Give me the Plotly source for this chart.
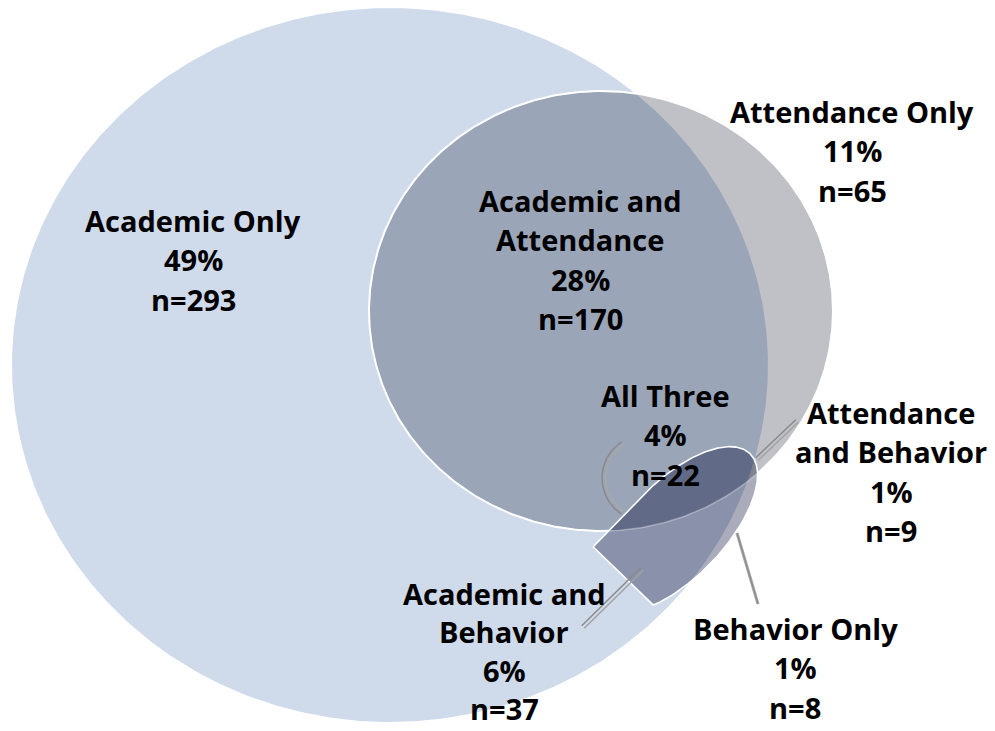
import numpy as np
import plotly.graph_objects as go

W, H = 995, 731

# ---------------- data ----------------
region_labels = ["Academic Only", "Academic and\nAttendance", "Attendance Only", "All Three",
                 "Attendance\nand Behavior", "Academic and\nBehavior", "Behavior Only"]
percents = [49, 28, 11, 4, 1, 6, 1]
counts = [293, 170, 65, 22, 9, 37, 8]

# ---------------- layout constants (pixel space) ----------------
label_pos = [(193, 220), (580, 200), (852, 111), (665, 395), (891, 412), (504, 593), (795, 628)]
label_gap = [39.5, 39.5, 39.5, 39.5, 39.5, 38.5, 39.5]
FONT = dict(family="Open Sans", size=29, color="#000000", weight="bold")

A_ELL = (390, 365, 378, 357)   # academic ellipse cx, cy, rx, ry
T_ELL = (601, 311, 232, 220)   # attendance ellipse
S_ORIGIN = np.array([623.3, 576.0])
S_U = np.array([0.695, -0.719]); S_U /= np.linalg.norm(S_U)
S_N = np.array([-S_U[1], S_U[0]])
if S_N[0] + S_N[1] < 0:
    S_N = -S_N

C_A = "#CFDAEB"
C_T = "#BFC1C6"
C_AT = "#9AA5B8"
C_S = "#AAACBB"
C_SA = "#8A92AB"
C_ST = "#7F828F"
C_SAT = "#616B88"


def ell_test(e):
    cx, cy, rx, ry = e
    return lambda x, y: ((x - cx) / rx) ** 2 + ((y - cy) / ry) ** 2 <= 1


def s_test(x, y):
    dx = x - S_ORIGIN[0]
    dy = y - S_ORIGIN[1]
    u = dx * S_U[0] + dy * S_U[1]
    n = dx * S_N[0] + dy * S_N[1]
    in_ell = ((u - 70) / 106) ** 2 + ((n - 6) / 48) ** 2 <= 1
    in_rect = (u <= 70) & (n >= -42) & (n <= 6)
    return (u >= 0) & (in_ell | in_rect)


def s_point(u, n):
    p = S_ORIGIN + u * S_U + n * S_N
    return p[0], p[1]


def star_region(p, tests, npts=900, rmax=900.0):
    th = np.linspace(0, 2 * np.pi, npts, endpoint=False)
    dx, dy = np.cos(th), np.sin(th)
    lo = np.zeros(npts)
    hi = np.full(npts, rmax)
    for _ in range(45):
        mid = (lo + hi) / 2
        x = p[0] + mid * dx
        y = p[1] + mid * dy
        ok = np.ones(npts, dtype=bool)
        for t in tests:
            ok &= t(x, y)
        lo = np.where(ok, mid, lo)
        hi = np.where(ok, hi, mid)
    xs = p[0] + lo * dx
    ys = p[1] + lo * dy
    return np.append(xs, xs[0]), np.append(ys, ys[0])


def ellipse_pts(e, npts=500):
    cx, cy, rx, ry = e
    t = np.linspace(0, 2 * np.pi, npts)
    return cx + rx * np.cos(t), cy + ry * np.sin(t)


tA, tT = ell_test(A_ELL), ell_test(T_ELL)
fig = go.Figure()


def poly(x, y, color):
    fig.add_trace(go.Scatter(x=x, y=y, mode="lines", fill="toself", fillcolor=color,
                             line=dict(width=0, color=color), hoverinfo="skip"))


def outline(x, y, color, width):
    fig.add_trace(go.Scatter(x=x, y=y, mode="lines", line=dict(color=color, width=width),
                             hoverinfo="skip"))


ax, ay = ellipse_pts(A_ELL)
poly(ax, ay, C_A)
tx, ty = ellipse_pts(T_ELL)
poly(tx, ty, C_T)
x, y = star_region((T_ELL[0], T_ELL[1]), [tA, tT])
poly(x, y, C_AT)
outline(tx, ty, "#FFFFFF", 2)

x, y = star_region(s_point(70, 0), [s_test])
sx, sy = x, y
poly(x, y, C_S)
x, y = star_region((660, 540), [s_test, tA])
poly(x, y, C_SA)
x, y = star_region((700, 480), [s_test, tT])
poly(x, y, C_ST)
x, y = star_region((700, 480), [s_test, tT, tA])
poly(x, y, C_SAT)
outline(tx, ty, "rgba(255,255,255,0.35)", 1.5)
outline(sx, sy, "#FFFFFF", 1.6)


# ---------------- leader lines ----------------
def double_line(p1, p2, off=1.8, c1="#8A8A8A", c2="#A2A2A2"):
    p1 = np.array(p1, float); p2 = np.array(p2, float)
    d = p2 - p1; d /= np.linalg.norm(d)
    nrm = np.array([-d[1], d[0]])
    for s, c in ((off, c1), (-off, c2)):
        a = p1 + s * nrm; b = p2 + s * nrm
        outline([a[0], b[0]], [a[1], b[1]], c, 1.5)


double_line((642, 569), (583, 627))
double_line((797, 421), (757, 459))
outline([737, 758], [533, 604], "#A8A8A8", 3)
outline([737, 758], [533, 604], "#8C8C8C", 1.2)
th = np.radians(np.linspace(123, 237, 80))
for r, c in ((43, "#8A8A8A"), (39.5, "#A8A8A8")):
    outline(645 + r * np.cos(th), 478 + r * np.sin(th), c, 1.5)

# ---------------- labels ----------------
for lab, pct, cnt, (cx, cy), gap in zip(region_labels, percents, counts, label_pos, label_gap):
    lines = lab.split("\n") + [f"{pct}%", f"n={cnt}"]
    for i, ln in enumerate(lines):
        fig.add_annotation(x=cx, y=cy + i * gap, text=ln, showarrow=False,
                           xanchor="center", yanchor="middle", font=FONT)

fig.update_layout(
    width=W, height=H, margin=dict(l=0, r=0, t=0, b=0),
    paper_bgcolor="white", plot_bgcolor="white", showlegend=False, hovermode=False,
    xaxis=dict(range=[0, W], visible=False, fixedrange=True),
    yaxis=dict(range=[H, 0], visible=False, fixedrange=True),
)
fig.write_html("out.html")
